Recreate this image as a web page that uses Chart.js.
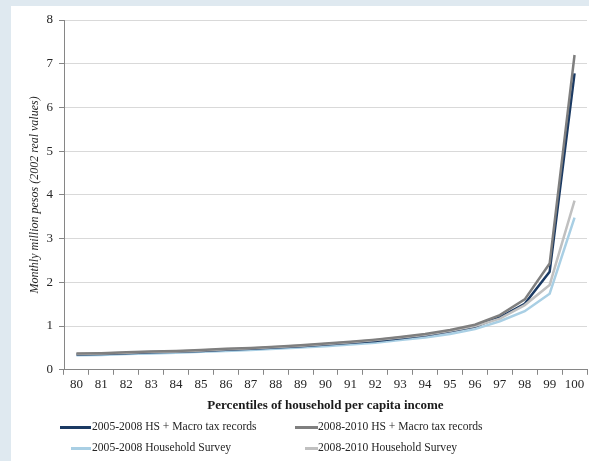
<!DOCTYPE html>
<html><head><meta charset="utf-8">
<script src="https://cdn.jsdelivr.net/npm/chart.js@4"></script>
<style>
html,body{margin:0;padding:0;background:#dfe9f0;}
#wrap{position:relative;width:589px;height:461px;overflow:hidden;}
#panel{position:absolute;left:11px;top:6px;right:0;bottom:0;background:#fff;}
canvas{position:absolute;left:0;top:0;}
.leg{position:absolute;font:11.6px "Liberation Serif",serif;color:#262626;white-space:nowrap;line-height:16px;}
.leg .l{position:absolute;top:7px;height:3px;}
</style></head>
<body><div id="wrap"><div id="panel"></div><canvas id="c" width="589" height="461"></canvas><div id="legend"></div></div>
<script>
const percentiles = ["80","81","82","83","84","85","86","87","88","89","90","91","92","93","94","95","96","97","98","99","100"];
const hsMacro0508 = [0.35,0.36,0.38,0.40,0.41,0.43,0.46,0.48,0.51,0.54,0.58,0.62,0.66,0.72,0.79,0.88,0.99,1.20,1.51,2.24,6.78];
const hsMacro0810 = [0.37,0.38,0.40,0.42,0.43,0.45,0.48,0.50,0.53,0.56,0.60,0.64,0.69,0.75,0.82,0.91,1.03,1.25,1.61,2.43,7.20];
const survey0508  = [0.33,0.34,0.36,0.37,0.39,0.41,0.43,0.45,0.48,0.51,0.54,0.58,0.62,0.68,0.74,0.82,0.93,1.11,1.34,1.74,3.48];
const survey0810  = [0.36,0.37,0.39,0.41,0.42,0.44,0.47,0.49,0.52,0.55,0.59,0.63,0.68,0.74,0.80,0.89,1.00,1.17,1.48,1.94,3.87];
const seriesNames = ["2005-2008 HS + Macro tax records","2008-2010 HS + Macro tax records","2005-2008 Household Survey","2008-2010 Household Survey"];
const yTicks = [0,1,2,3,4,5,6,7,8];
const xTitle = "Percentiles of household per capita income";
const yTitle = "Monthly million pesos (2002 real values)";

const colors = ["#1b3a63","#7f7f7f","#a9cfe4","#c0c0c0"];
const values = [hsMacro0508, hsMacro0810, survey0508, survey0810];
// draw order: first = top-most
const drawOrder = [1,3,0,2];
const datasets = drawOrder.map(i => ({
  label: seriesNames[i], data: values[i], borderColor: colors[i], backgroundColor: colors[i],
  borderWidth: 2.5, pointRadius: 0, tension: 0, fill: false
}));

const serif = '"Liberation Serif", "Times New Roman", serif';
new Chart(document.getElementById('c'), {
  type: 'line',
  data: { labels: percentiles, datasets },
  options: {
    responsive: false, animation: false,
    layout: { padding: { left: 28, top: 20, right: 2, bottom: 44 } },
    plugins: { legend: { display: false }, tooltip: { enabled: false } },
    scales: {
      x: {
        type: 'category', offset: true,
        grid: { offset: true, drawOnChartArea: false, tickLength: 5, color: '#868686' },
        border: { color: '#868686', width: 1 },
        ticks: { font: { family: serif, size: 13 }, color: '#262626', padding: 2, maxRotation: 0, autoSkip: false },
        title: { display: true, text: xTitle, font: { family: serif, size: 13, weight: 'bold' }, color: '#1a1a1a', padding: { top: 3, bottom: 4 } }
      },
      y: {
        min: 0, max: 8,
        afterBuildTicks: s => { s.ticks = yTicks.map(v => ({ value: v })); },
        afterFit: s => { s.width = 36; },
        grid: { color: '#d9d9d9', tickColor: '#868686', tickLength: 5, lineWidth: 1 },
        border: { color: '#868686', width: 1 },
        ticks: { font: { family: serif, size: 13 }, color: '#262626', padding: 6 },
        title: { display: true, text: yTitle, font: { family: serif, size: 12, style: 'italic' }, color: '#262626', padding: { top: 0, bottom: 4 } }
      }
    }
  }
});

// HTML legend (two columns)
const legLayout = [
  { lineL: 60, lineR: 91, text: 92, top: 419 },
  { lineL: 295, lineR: 318, text: 318, top: 419 },
  { lineL: 71, lineR: 91, text: 92, top: 440 },
  { lineL: 305, lineR: 318, text: 318, top: 440 }
];
const legend = document.getElementById('legend');
seriesNames.forEach((name, i) => {
  const p = legLayout[i];
  const d = document.createElement('div');
  d.className = 'leg';
  d.style.left = p.lineL + 'px'; d.style.top = p.top + 'px';
  d.style.paddingLeft = (p.text - p.lineL) + 'px';
  const l = document.createElement('span');
  l.className = 'l'; l.style.left = '0px'; l.style.width = (p.lineR - p.lineL) + 'px'; l.style.background = colors[i];
  d.appendChild(l);
  d.appendChild(document.createTextNode(name));
  legend.appendChild(d);
});
</script>
</body></html>
